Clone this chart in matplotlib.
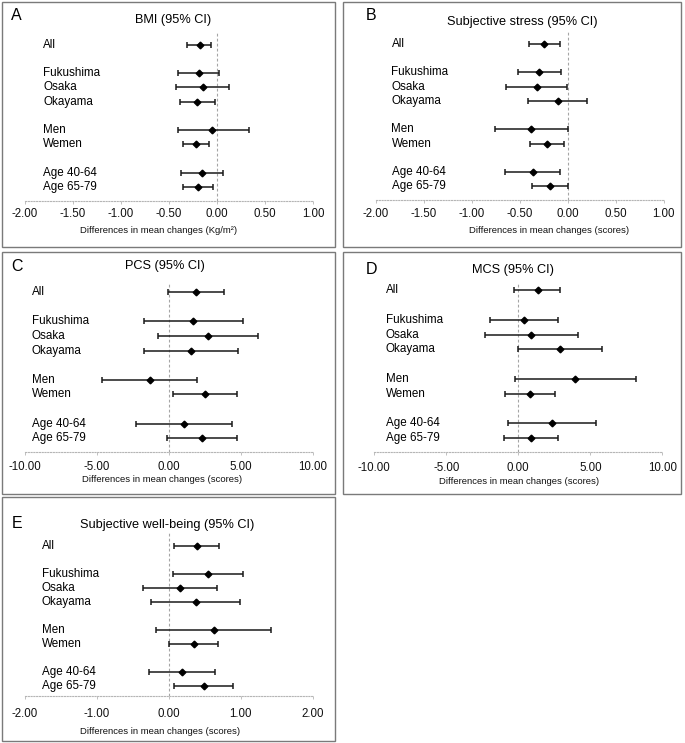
import matplotlib
matplotlib.use("Agg")
import matplotlib.pyplot as plt
import matplotlib.transforms as mtransforms
from matplotlib.patches import Rectangle
import numpy as np

plt.rcParams['font.family'] = ['Liberation Sans', 'DejaVu Sans']
plt.rcParams['axes.unicode_minus'] = False

# ---------------- data ----------------
groups = ["All", "Fukushima", "Osaka", "Okayama", "Men", "Wemen", "Age 40-64", "Age 65-79"]

bmi_mean = [-0.18, -0.19, -0.15, -0.21, -0.05, -0.22, -0.16, -0.20]
bmi_low = [-0.31, -0.41, -0.43, -0.39, -0.41, -0.35, -0.38, -0.35]
bmi_high = [-0.06, 0.02, 0.13, -0.02, 0.33, -0.08, 0.06, -0.04]

stress_mean = [-0.24, -0.30, -0.32, -0.10, -0.38, -0.21, -0.36, -0.18]
stress_low = [-0.40, -0.52, -0.64, -0.41, -0.76, -0.39, -0.65, -0.37]
stress_high = [-0.08, -0.07, -0.01, 0.20, 0.01, -0.04, -0.08, 0.01]

pcs_mean = [1.88, 1.67, 2.71, 1.50, -1.32, 2.50, 1.04, 2.27]
pcs_low = [-0.05, -1.74, -0.74, -1.76, -4.63, 0.28, -2.32, -0.12]
pcs_high = [3.85, 5.12, 6.18, 4.81, 1.94, 4.74, 4.40, 4.70]

mcs_mean = [1.34, 0.37, 0.90, 2.87, 3.96, 0.83, 2.34, 0.86]
mcs_low = [-0.28, -1.99, -2.34, -0.05, -0.21, -0.90, -0.69, -1.02]
mcs_high = [2.92, 2.75, 4.17, 5.83, 8.15, 2.57, 5.37, 2.75]

wb_mean = [0.39, 0.55, 0.16, 0.38, 0.63, 0.35, 0.19, 0.49]
wb_low = [0.08, 0.06, -0.36, -0.24, -0.17, 0.01, -0.27, 0.08]
wb_high = [0.70, 1.04, 0.68, 0.99, 1.43, 0.69, 0.64, 0.90]

ticks_a = [-2.0, -1.5, -1.0, -0.5, 0.0, 0.5, 1.0]
ticks_cd = [-10.0, -5.0, 0.0, 5.0, 10.0]
ticks_e = [-2.0, -1.0, 0.0, 1.0, 2.0]

# ---------------- layout ----------------
row_pos = [0, 2, 3, 4, 6, 7, 9, 10]
W, H = 685, 743
fig = plt.figure(figsize=(W / 100, H / 100), dpi=100)


def fx(px):
    return px / W


def fy(py):
    return 1 - py / H


panels = [
    dict(letter="A", title="BMI (95% CI)", xlabel="Differences in mean changes (Kg/m²)",
         mean=bmi_mean, low=bmi_low, high=bmi_high, ticks=ticks_a,
         box=(2, 2, 335, 247), ax_x=(25, 313), y_all=44.8, step=14.2, y_top=32.5, y_axis=200.7,
         label_x=43, title_xy=(173, 20), letter_xy=(11, 16), xlabel_xy=(159, 230), pad=3.3),
    dict(letter="B", title="Subjective stress (95% CI)", xlabel="Differences in mean changes (scores)",
         mean=stress_mean, low=stress_low, high=stress_high, ticks=ticks_a,
         box=(343, 2, 681, 247), ax_x=(375.5, 663.5), y_all=43.8, step=14.25, y_top=31.7, y_axis=200.3,
         label_x=391.5, title_xy=(522.7, 21.5), letter_xy=(366, 16), xlabel_xy=(549, 230), pad=3.7),
    dict(letter="C", title="PCS (95% CI)", xlabel="Differences in mean changes (scores)",
         mean=pcs_mean, low=pcs_low, high=pcs_high, ticks=ticks_cd,
         box=(2, 252, 335, 494), ax_x=(25, 313), y_all=292.2, step=14.6, y_top=281.7, y_axis=451.7,
         label_x=31.7, title_xy=(165, 266), letter_xy=(11, 266.5), xlabel_xy=(162.5, 480), pad=4.6),
    dict(letter="D", title="MCS (95% CI)", xlabel="Differences in mean changes (scores)",
         mean=mcs_mean, low=mcs_low, high=mcs_high, ticks=ticks_cd,
         box=(343, 252, 681, 494), ax_x=(374.3, 662.3), y_all=290.2, step=14.8, y_top=281.7, y_axis=452,
         label_x=385.7, title_xy=(512.5, 270), letter_xy=(366, 270), xlabel_xy=(519, 481), pad=5.1),
    dict(letter="E", title="Subjective well-being (95% CI)", xlabel="Differences in mean changes (scores)",
         mean=wb_mean, low=wb_low, high=wb_high, ticks=ticks_e,
         box=(2, 497, 335, 741), ax_x=(24.5, 312.5), y_all=546.2, step=13.96, y_top=531, y_axis=696,
         label_x=41.7, title_xy=(166.7, 525), letter_xy=(12, 523.5), xlabel_xy=(160, 732), pad=6.8),
]

for p in panels:
    x0, y0, x1, y1 = p['box']
    fig.patches.append(Rectangle((fx(x0), fy(y1)), fx(x1) - fx(x0), fy(y0) - fy(y1),
                                 transform=fig.transFigure, fill=False,
                                 edgecolor='#7a7a7a', lw=1.0))
    axl, axr = p['ax_x']
    ax = fig.add_axes([fx(axl), fy(p['y_axis']), (axr - axl) / W,
                       (p['y_axis'] - p['y_top']) / H])
    ticks = p['ticks']
    ax.set_xlim(ticks[0], ticks[-1])
    top_row = (p['y_top'] - p['y_all']) / p['step']
    bot_row = (p['y_axis'] - p['y_all']) / p['step']
    ax.set_ylim(bot_row, top_row)
    ax.patch.set_visible(False)
    for s in ('top', 'left', 'right'):
        ax.spines[s].set_visible(False)
    ax.spines['bottom'].set_linestyle((0, (1, 1.5)))
    ax.spines['bottom'].set_color('#b5b5b5')
    ax.spines['bottom'].set_linewidth(0.8)
    ax.set_yticks([])
    ax.set_xticks(ticks)
    ax.set_xticklabels([f"{t:.2f}" for t in ticks])
    ax.tick_params(axis='x', direction='out', length=2, width=0.6, color='#b5b5b5',
                   labelsize=8.3, labelcolor='#111111', pad=p['pad'])

    ax.axvline(0, color='#a5a5a5', ls=(0, (2.5, 2)), lw=0.8, zorder=1)

    mean = np.array(p['mean'])
    low = np.array(p['low'])
    high = np.array(p['high'])
    ax.errorbar(mean, row_pos, xerr=[mean - low, high - mean], fmt='D', color='black',
                ecolor='#1a1a1a', ms=3.4, elinewidth=1.1, capsize=1.9, capthick=1.1,
                zorder=3, clip_on=False)

    trans = mtransforms.blended_transform_factory(fig.transFigure, ax.transData)
    for g, r in zip(groups, row_pos):
        ax.text(fx(p['label_x']), r, g, transform=trans, ha='left', va='center',
                fontsize=8.4, color='black', clip_on=False)

    fig.text(fx(p['title_xy'][0]), fy(p['title_xy'][1]), p['title'], ha='center', va='center',
             fontsize=9.2, color='black')
    fig.text(fx(p['letter_xy'][0]), fy(p['letter_xy'][1]), p['letter'], ha='left', va='center',
             fontsize=11.5, color='black')
    fig.text(fx(p['xlabel_xy'][0]), fy(p['xlabel_xy'][1]), p['xlabel'], ha='center', va='center',
             fontsize=6.8, color='#111111')

fig.savefig("out.png", dpi=100)
